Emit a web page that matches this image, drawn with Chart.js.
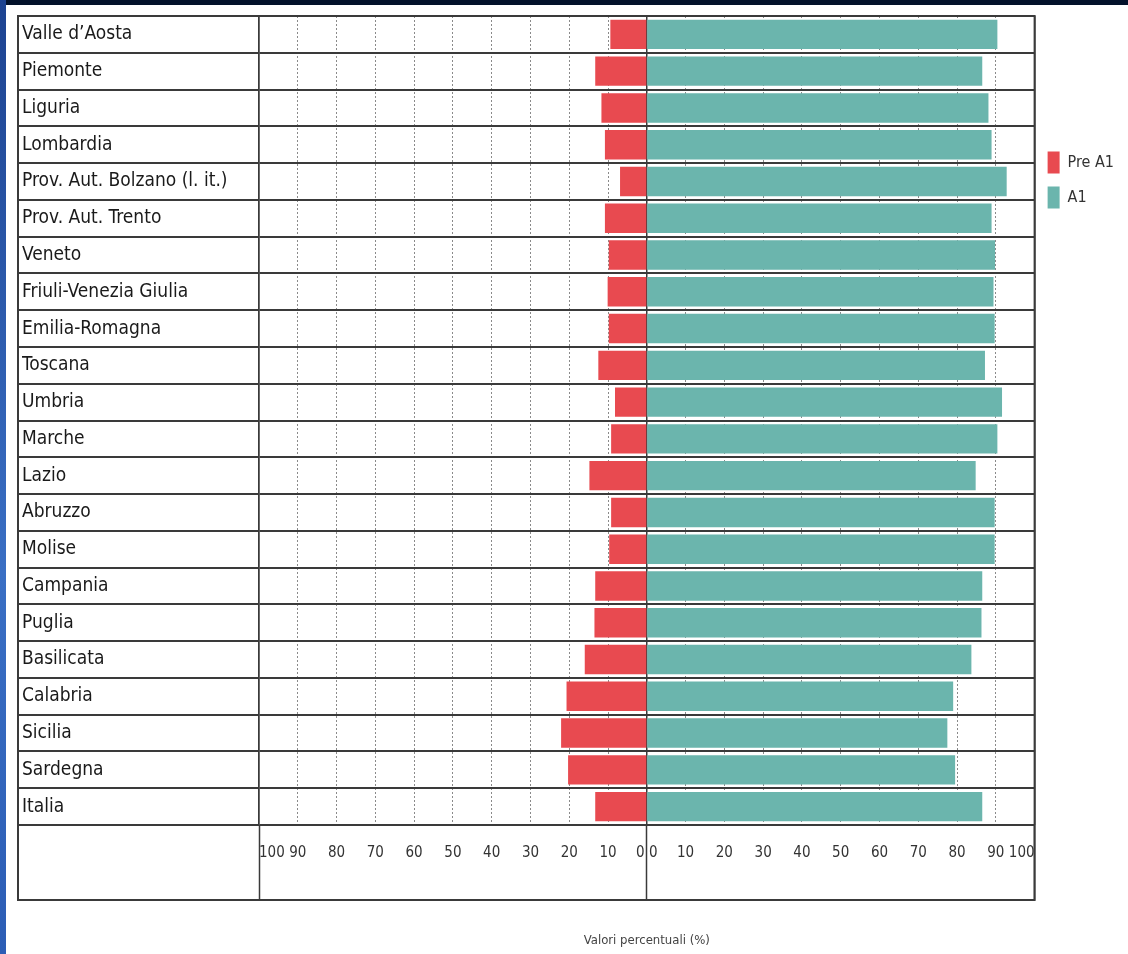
<!DOCTYPE html>
<html lang="it">
<head>
<meta charset="UTF-8">
<title>Pre A1 e A1 per regione</title>
<style>
    body { margin: 0; background: #fff; }
    #wrap { position: relative; width: 1128px; height: 954px; overflow: hidden; }
    #topBar { position: absolute; left: 0; top: 0; width: 1128px; height: 5px; background: #03122b; }
    #leftBar { position: absolute; left: 0; top: 0; width: 6px; height: 954px; background: linear-gradient(180deg, #1d4391, #3a6fc4 60%, #2c5db5); }
    canvas { position: absolute; left: 0; top: 0; }
</style>
</head>
<body>
<div id="wrap">
    <div id="topBar"></div>
    <div id="leftBar"></div>
    <canvas id="chart" width="1128" height="954"></canvas>
</div>

<script src="https://cdn.jsdelivr.net/npm/chart.js"></script>
<script>
    const regions = [
        "Valle d\u2019Aosta", "Piemonte", "Liguria", "Lombardia", "Prov. Aut. Bolzano (l. it.)",
        "Prov. Aut. Trento", "Veneto", "Friuli-Venezia Giulia", "Emilia-Romagna", "Toscana",
        "Umbria", "Marche", "Lazio", "Abruzzo", "Molise", "Campania", "Puglia", "Basilicata",
        "Calabria", "Sicilia", "Sardegna", "Italia"
    ];
    const preA1 = [9.4, 13.3, 11.7, 10.8, 6.9, 10.8, 9.8, 10.1, 9.8, 12.5, 8.2,
                   9.2, 14.8, 9.2, 9.7, 13.3, 13.5, 16.0, 20.7, 22.1, 20.3, 13.3];
    const a1 = [90.4, 86.5, 88.1, 88.9, 92.8, 88.9, 89.8, 89.4, 89.7, 87.2, 91.6,
                90.4, 84.8, 89.7, 89.7, 86.5, 86.3, 83.7, 79.0, 77.5, 79.5, 86.5];
    const seriesNames = ["Pre A1", "A1"];
    const axisTitle = "Valori percentuali (%)";

    const FONT = "'DejaVu Sans Condensed', 'Liberation Sans Narrow', 'DejaVu Sans', sans-serif";
    const LINE = '#3a3a3a';

    // box round the whole table (label column + plot + axis row)
    const framePlugin = {
        id: 'frame',
        afterDraw(chart) {
            const { ctx, chartArea, scales } = chart;
            const left = scales.y.right - scales.y.options.grid.tickLength;
            const bottom = chartArea.bottom + scales.x.options.grid.tickLength;
            ctx.save();
            ctx.strokeStyle = LINE;
            ctx.lineWidth = 2;
            ctx.strokeRect(left, chartArea.top, chartArea.right - left, bottom - chartArea.top);
            ctx.restore();
        }
    };

    const isEdge = v => v === 0 || Math.abs(v) === 100;

    new Chart(document.getElementById('chart'), {
        type: 'bar',
        data: {
            labels: regions,
            datasets: [
                { label: seriesNames[0], data: preA1.map(v => -v), backgroundColor: '#e84a50', borderWidth: 0 },
                { label: seriesNames[1], data: a1, backgroundColor: '#6bb5ad', borderWidth: 0 }
            ]
        },
        plugins: [framePlugin],
        options: {
            indexAxis: 'y',
            responsive: false,
            animation: false,
            barPercentage: 0.8,
            categoryPercentage: 1,
            layout: { padding: { left: 22, top: 16, right: 4, bottom: 0 } },
            plugins: {
                legend: {
                    position: 'right',
                    align: 'start',
                    title: { display: true, text: '', padding: { top: 108, bottom: 0 } },
                    labels: {
                        boxWidth: 12, boxHeight: 22, padding: 13, color: '#333',
                        font: { family: FONT, size: 16 }
                    }
                },
                tooltip: {
                    callbacks: { label: c => c.dataset.label + ': ' + Math.abs(c.raw) + '%' }
                }
            },
            scales: {
                x: {
                    stacked: true,
                    min: -100,
                    max: 100,
                    ticks: {
                        stepSize: 10, align: 'inner', padding: -56, maxRotation: 0, autoSkip: false,
                        color: '#333', font: { family: FONT, size: 15 },
                        callback: v => v === 0 ? '0 0' : Math.abs(v)
                    },
                    grid: {
                        color: c => isEdge(c.tick.value) ? 'transparent' : '#8a8a8a',
                        lineWidth: 1,
                        tickLength: 75,
                        tickColor: c => isEdge(c.tick.value) ? LINE : 'transparent',
                        tickWidth: 1.5,
                        tickBorderDash: []
                    },
                    border: { display: false, dash: [2, 2] },
                    title: {
                        display: true, text: axisTitle, color: '#444',
                        font: { family: FONT, size: 13 }, padding: { top: 0, bottom: 6 }
                    },
                    afterFit: s => { s.height = 129; }
                },
                x2: {
                    position: 'top',
                    min: -100,
                    max: 100,
                    ticks: { stepSize: 100, display: false },
                    grid: { color: LINE, lineWidth: 1.5, drawTicks: false },
                    border: { display: false },
                    afterFit: s => { s.height = 0; }
                },
                y: {
                    stacked: true,
                    ticks: {
                        crossAlign: 'far', autoSkip: false, color: '#1a1a1a',
                        font: { family: FONT, size: 19 }
                    },
                    grid: { color: LINE, lineWidth: 2, tickLength: 241, tickColor: LINE, tickWidth: 2 },
                    border: { color: LINE, width: 1.5 },
                    afterFit: s => { s.width = 237; }
                }
            }
        }
    });
</script>
</body>
</html>
